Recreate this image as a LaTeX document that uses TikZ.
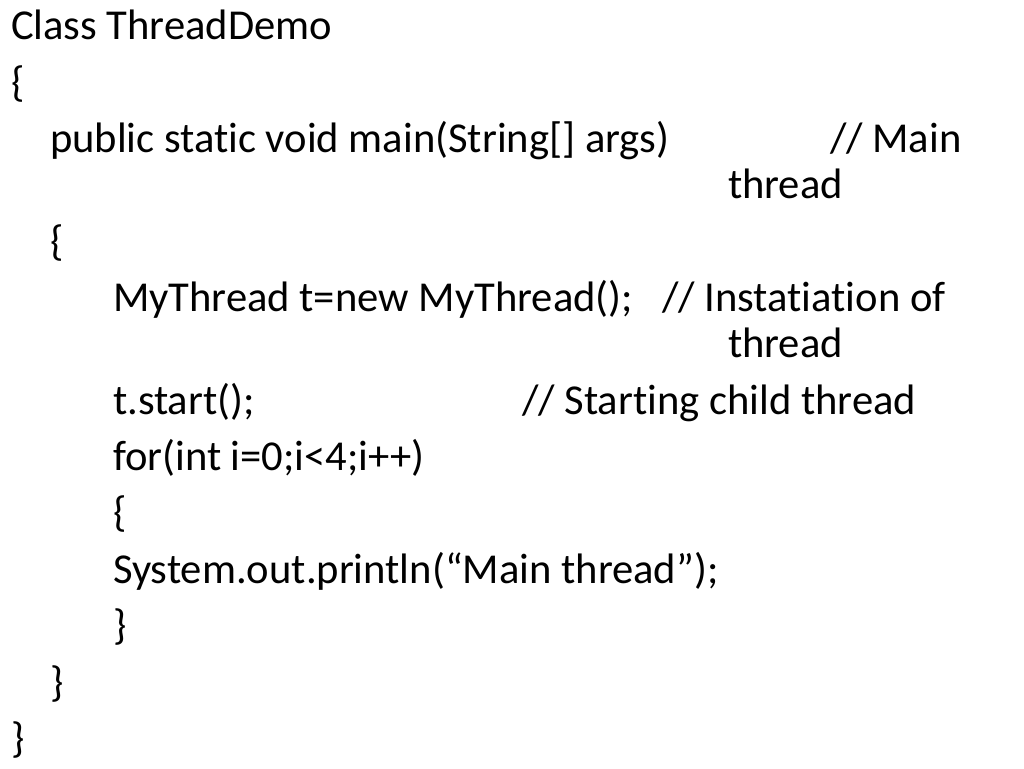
\documentclass[tikz,border=0pt]{standalone}
\usepackage{fontspec}
\setmainfont{Carlito}[Ligatures=NoCommon]
\begin{document}
\begin{tikzpicture}[x=1pt,y=-1pt,
  slidetext/.style={anchor=base west, inner sep=0pt, outer sep=0pt, font=\fontsize{42.6}{50}\selectfont, text=black}]
\useasboundingbox[fill=white] (0,0) rectangle (1024,768);
\node[slidetext] (l1)  at (11,40)    {Class ThreadDemo};
\node[slidetext] (l2)  at (11,96.4)  {\{};
\node[slidetext] (l3)  at (50,152.8) {public static void main(String[] args)};
\node[slidetext] (c3)  at (830,152.8) {// Main};
\node[slidetext] (c3b) at (728,198.8) {thread};
\node[slidetext] (l4)  at (50,255.2) {\{};
\node[slidetext] (l5)  at (113,311.6) {MyThread t=new MyThread();};
\node[slidetext] (c5)  at (662,311.6) {// Instatiation of};
\node[slidetext] (c5b) at (728,357.6) {thread};
\node[slidetext] (l6)  at (113,414) {t.start();};
\node[slidetext] (c6)  at (522,414) {// Starting child thread};
\node[slidetext] (l7)  at (113,470.4) {for(int i=0;i<4;i++)};
\node[slidetext] (l8)  at (113,526.8) {\{};
\node[slidetext] (l9)  at (113,583.2) {System.out.println(“Main thread”);};
\node[slidetext] (l10) at (113,639.6) {\}};
\node[slidetext] (l11) at (50,696) {\}};
\node[slidetext] (l12) at (11,752.4) {\}};
\end{tikzpicture}
\end{document}
